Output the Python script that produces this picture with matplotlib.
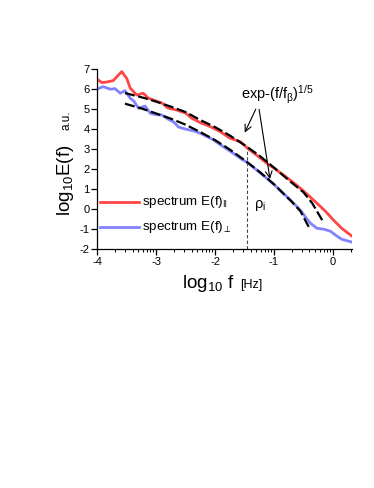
import matplotlib
matplotlib.use("Agg")
import matplotlib.pyplot as plt
import numpy as np

plt.rcParams['font.family'] = ['Liberation Sans', 'DejaVu Sans']
plt.rcParams['mathtext.fontset'] = 'custom'
plt.rcParams['mathtext.rm'] = 'Liberation Sans'
plt.rcParams['mathtext.it'] = 'Liberation Sans:italic'
plt.rcParams['mathtext.bf'] = 'Liberation Sans:bold'
plt.rcParams['mathtext.fallback'] = 'stixsans'
plt.rcParams['axes.unicode_minus'] = False

# ---- data (log10 f, log10 E) ----
red_x = [-4.0, -3.92, -3.84, -3.73, -3.585, -3.5, -3.44, -3.33, -3.22, -3.13, -3.0, -2.9,
         -2.8, -2.65, -2.5, -2.4, -2.25, -2.1, -1.91, -1.75, -1.57, -1.43, -1.25, -1.12,
         -1.0, -0.84, -0.7, -0.55, -0.4, -0.27, -0.12, 0.01, 0.15, 0.3, 0.32]
red_y = [6.48, 6.32, 6.35, 6.42, 6.87, 6.53, 6.04, 5.70, 5.79, 5.54, 5.40, 5.30,
         5.05, 4.95, 4.80, 4.55, 4.32, 4.15, 3.87, 3.55, 3.37, 3.0, 2.6, 2.29,
         2.05, 1.71, 1.40, 1.04, 0.65, 0.30, -0.12, -0.54, -0.95, -1.29, -1.33]

blue_x = [-4.0, -3.9, -3.78, -3.7, -3.61, -3.53, -3.44, -3.38, -3.30, -3.19, -3.10, -3.0,
          -2.9, -2.8, -2.7, -2.62, -2.5, -2.35, -2.25, -2.05, -1.9, -1.69, -1.55, -1.43,
          -1.25, -1.12, -0.95, -0.84, -0.7, -0.553, -0.45, -0.38, -0.27, -0.15, -0.04,
          0.05, 0.15, 0.3, 0.32]
blue_y = [6.0, 6.12, 5.99, 6.02, 5.79, 5.92, 5.54, 5.4, 5.04, 5.15, 4.79, 4.72,
          4.70, 4.50, 4.35, 4.10, 4.0, 3.9, 3.79, 3.5, 3.2, 2.79, 2.5, 2.29,
          1.85, 1.54, 1.1, 0.79, 0.4, -0.04, -0.45, -0.70, -0.95, -1.0, -1.1,
          -1.3, -1.5, -1.62, -1.64]

fit_par_x = [-3.53, -3.2, -3.0, -2.75, -2.5, -2.25, -2.0, -1.75, -1.5, -1.25, -1.0,
             -0.75, -0.5, -0.35, -0.18]
fit_par_y = [5.8, 5.55, 5.37, 5.12, 4.85, 4.45, 4.1, 3.68, 3.2, 2.68, 2.08,
             1.45, 0.85, 0.3, -0.55]
fit_perp_x = [-3.53, -3.25, -3.0, -2.75, -2.5, -2.25, -2.0, -1.75, -1.5, -1.25,
              -1.0, -0.84, -0.7, -0.55, -0.41]
fit_perp_y = [5.27, 5.03, 4.78, 4.52, 4.22, 3.85, 3.45, 2.98, 2.45, 1.88,
              1.25, 0.78, 0.38, -0.1, -0.88]

rho_x = -1.45
rho_top = 3.0

x_ticks = [-4, -3, -2, -1, 0]
y_ticks = [-2, -1, 0, 1, 2, 3, 4, 5, 6, 7]

W, H = 374, 488
fig = plt.figure(figsize=(W / 100, H / 100), dpi=100)
ax = fig.add_axes([97.3 / W, 1 - 249.3 / H, (351.7 - 97.3) / W, (249.3 - 69) / H])

red = '#ff4646'
blue = '#8282ff'
ax.plot(red_x, red_y, color=red, lw=2.0, solid_joinstyle='round', zorder=2)
ax.plot(blue_x, blue_y, color=blue, lw=2.0, solid_joinstyle='round', zorder=2)
ax.plot(fit_par_x, fit_par_y, color='black', lw=1.6, dashes=(4.5, 1.6), zorder=3)
ax.plot(fit_perp_x, fit_perp_y, color='black', lw=1.6, dashes=(4.5, 1.6), zorder=3)
ax.plot([rho_x, rho_x], [-2, rho_top], color='#444444', lw=0.8, dashes=(3, 2), zorder=1)

ax.set_xlim(-4, 0.32)
ax.set_ylim(-2, 7)
ax.set_xticks(x_ticks)
ax.set_yticks(y_ticks)
minor = [d + np.log10(k) for d in range(-4, 1) for k in range(2, 10)]
minor = [m for m in minor if m <= 0.32]
ax.set_xticks(minor, minor=True)
ax.set_xticklabels([str(t) for t in x_ticks])
ax.set_yticklabels([str(t) for t in y_ticks])
ax.spines['top'].set_visible(False)
ax.spines['right'].set_visible(False)
for s in ('left', 'bottom'):
    ax.spines[s].set_linewidth(0.9)
ax.tick_params(axis='both', which='major', direction='out', length=4, width=0.9,
               labelsize=8, pad=1.5)
ax.tick_params(axis='x', which='minor', direction='out', length=2.2, width=0.7)

# legend (drawn manually inside axes)
ax.plot([-3.95, -3.30], [0.36, 0.36], color=red, lw=2.0)
ax.plot([-3.95, -3.30], [-0.87, -0.87], color=blue, lw=2.0)
ax.text(-3.245, 0.36, r'spectrum E(f)$_{\Vert}$', fontsize=9.6, va='center', ha='left')
ax.text(-3.245, -0.87, r'spectrum E(f)$_{\perp}$', fontsize=9.6, va='center', ha='left')

# annotations
ax.text(-1.56, 5.5, r'exp-(f/f$_{\mathregular{β}}$)$^{1/5}$', fontsize=10.5,
        ha='left', va='baseline')
ax.annotate('', xy=(-1.517, 3.70), xytext=(-1.289, 5.12),
            arrowprops=dict(arrowstyle='->', lw=0.8, color='black', mutation_scale=12))
ax.annotate('', xy=(-1.06, 1.37), xytext=(-1.26, 5.12),
            arrowprops=dict(arrowstyle='->', lw=0.8, color='black', mutation_scale=12))
ax.text(-1.34, 0.05, r'ρ$_{\mathregular{i}}$', fontsize=10.5, ha='left', va='baseline')

# axis labels
fig.text(69.5 / W, 1 - 180 / H, r'log$_{10}$E(f)', rotation=90, rotation_mode='anchor',
         ha='center', va='baseline', fontsize=13.5)
fig.text(69.5 / W, 1 - 120 / H, 'a.u.', rotation=90, rotation_mode='anchor',
         ha='center', va='baseline', fontsize=8.5)
fig.text(181.7 / W, 1 - 288 / H, r'log$_{10}$ f', ha='left', va='baseline', fontsize=13.5)
fig.text(240 / W, 1 - 288 / H, '[Hz]', ha='left', va='baseline', fontsize=9)

fig.savefig('out.png', dpi=100)
